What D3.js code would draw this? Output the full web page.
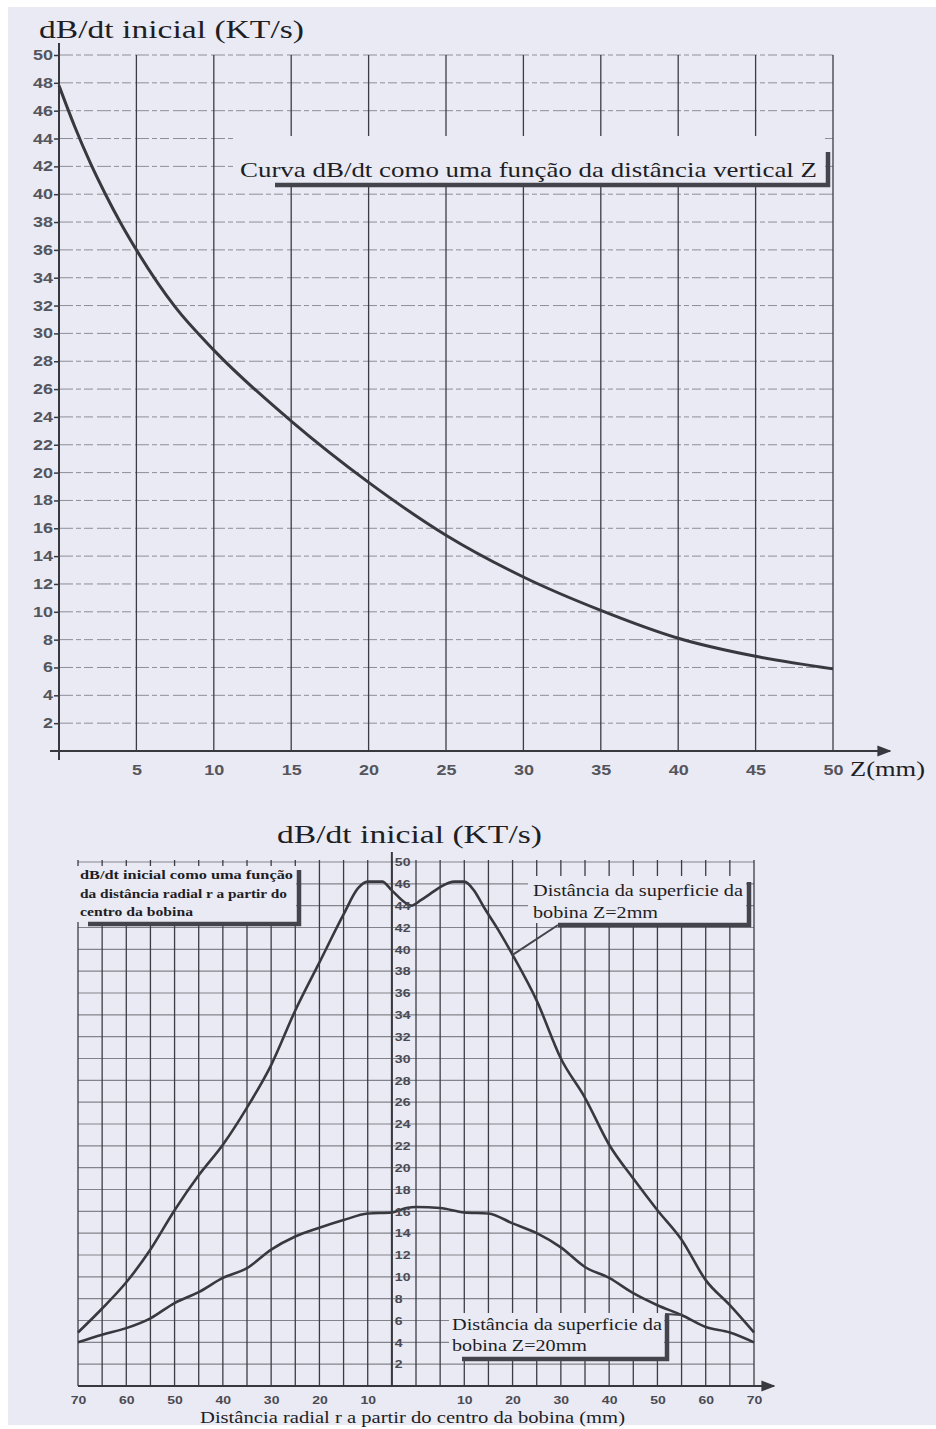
<!DOCTYPE html>
<html>
<head>
<meta charset="utf-8">
<script src="https://cdn.jsdelivr.net/npm/d3@7"></script>
<style>
body { margin: 0; background: #fff; }
svg { display: block; }
</style>
</head>
<body>
<script>
// ---------------------------------------------------------------------
// Data
// ---------------------------------------------------------------------

// top chart: dB/dt as a function of vertical distance Z (mm)
var zValues = [0, 1, 2, 3, 4, 5, 7.5, 10, 15, 20, 25, 30, 35, 40, 45, 50];
var dbdtVsZ = [47.8, 44.9, 42.3, 40.0, 37.9, 36.0, 31.9, 28.8, 23.7, 19.3,
    15.5, 12.5, 10.1, 8.1, 6.8, 5.9];
var topXTicks = [5, 10, 15, 20, 25, 30, 35, 40, 45, 50];
var topYTicks = [2, 4, 6, 8, 10, 12, 14, 16, 18, 20, 22, 24, 26, 28, 30, 32,
    34, 36, 38, 40, 42, 44, 46, 48, 50];

// bottom chart: dB/dt as a function of radial distance r (mm)
var rValuesZ2 = [-70, -65, -60, -55, -50, -45, -40, -35, -30, -25, -20, -15,
    -12, -10, -7, -5, -2, -1, 1, 3, 5, 8, 10, 12, 14, 17, 20, 25, 30, 35, 40,
    45, 50, 55, 60, 65, 70];
var dbdtZ2 = [4.9, 7.1, 9.5, 12.5, 16.1, 19.3, 22.1, 25.5, 29.4, 34.4, 38.8,
    43.2, 45.6, 46.2, 46.2, 45.4, 44.2, 44.0, 44.5, 45.1, 45.7, 46.2, 46.2,
    45.4, 43.9, 41.8, 39.5, 35.3, 30.0, 26.4, 22.1, 19.0, 16.1, 13.4, 9.7,
    7.4, 4.9];
var rValuesZ20 = [-70, -65, -60, -55, -50, -45, -40, -35, -30, -25, -20, -15,
    -10, -5, -2, 0, 5, 10, 15, 20, 25, 30, 35, 40, 45, 50, 55, 60, 65, 70];
var dbdtZ20 = [4.0, 4.7, 5.3, 6.2, 7.6, 8.6, 9.9, 10.8, 12.5, 13.7, 14.5,
    15.2, 15.8, 15.9, 16.3, 16.4, 16.3, 15.9, 15.8, 14.9, 14.0, 12.7, 10.9,
    9.9, 8.5, 7.4, 6.5, 5.4, 4.9, 4.0];
var bottomXTicks = [-70, -60, -50, -40, -30, -20, -10, 10, 20, 30, 40, 50,
    60, 70];
var bottomXLabels = ["70", "60", "50", "40", "30", "20", "10", "10", "20",
    "30", "40", "50", "60", "70"];
var bottomGridX = d3.range(-70, 71, 5);
var bottomYTicks = [2, 4, 6, 8, 10, 12, 14, 16, 18, 20, 22, 24, 26, 28, 30,
    32, 34, 36, 38, 40, 42, 44, 46, 48];
var bottomYLabels = ["2", "4", "6", "8", "10", "12", "14", "16", "18", "20",
    "22", "24", "26", "28", "30", "32", "34", "36", "38", "40", "42", "44",
    "46", "50"];

// ---------------------------------------------------------------------
// page & styles
// ---------------------------------------------------------------------
var pageW = 936, pageH = 1429;
var paper = "#eaeaf4";
var ink = "#38383f";
var serif = "'Liberation Serif', 'Times New Roman', serif";
var sans = "'Liberation Sans', Arial, sans-serif";

var svg = d3.select("body").append("svg")
    .attr("width", pageW)
    .attr("height", pageH);

// scanned paper area (thin white margins around it)
svg.append("rect")
    .attr("x", 8).attr("y", 7)
    .attr("width", pageW - 8).attr("height", pageH - 11)
    .attr("fill", paper);

var defs = svg.append("defs");
defs.append("marker")
    .attr("id", "arrow")
    .attr("viewBox", "0 0 10 10")
    .attr("refX", 9).attr("refY", 5)
    .attr("markerWidth", 7).attr("markerHeight", 7)
    .attr("orient", "auto")
    .append("path")
    .attr("d", "M0,1 L10,5 L0,9 Z")
    .attr("fill", ink);

// helper for the serif captions, stretched like the scan
function caption(str, x, y, size, len, weight) {
    var t = svg.append("text")
        .attr("x", x).attr("y", y)
        .attr("font-family", serif)
        .attr("font-size", size)
        .attr("fill", "#1e1e24")
        .text(str);
    if (weight) t.attr("font-weight", weight);
    if (len) t.attr("textLength", len).attr("lengthAdjust", "spacingAndGlyphs");
    return t;
}

// shadowed annotation box (background hides grid, dark L-shaped shadow)
function shadowBox(x, y, w, h, shadowStart, topInset) {
    svg.append("rect")
        .attr("x", x).attr("y", y)
        .attr("width", w).attr("height", h)
        .attr("fill", paper);
    svg.append("path")
        .attr("d", "M" + shadowStart + "," + (y + h + 2) +
            " H" + (x + w + 3) + " V" + (y + topInset))
        .attr("fill", "none")
        .attr("stroke", "#44444c")
        .attr("stroke-width", 4.5);
}

// =====================================================================
// TOP CHART
// =====================================================================
var xTop = d3.scaleLinear().domain([0, 50]).range([59, 833]);
var yTop = d3.scaleLinear().domain([0, 50]).range([751, 55]);

var gTop = svg.append("g");

// dashed horizontal grid
gTop.selectAll("line.hgrid")
    .data(topYTicks)
    .enter()
    .append("line")
    .attr("class", "hgrid")
    .attr("x1", xTop(0)).attr("x2", xTop(50))
    .attr("y1", function(d) { return yTop(d); })
    .attr("y2", function(d) { return yTop(d); })
    .attr("stroke", "#8e8e98")
    .attr("stroke-width", 1)
    .attr("stroke-dasharray", "14,3,5,3,9,4");

// solid vertical grid
gTop.selectAll("line.vgrid")
    .data(topXTicks)
    .enter()
    .append("line")
    .attr("class", "vgrid")
    .attr("x1", function(d) { return xTop(d); })
    .attr("x2", function(d) { return xTop(d); })
    .attr("y1", yTop(50)).attr("y2", yTop(0))
    .attr("stroke", "#3c3c44")
    .attr("stroke-width", 1.3);

// annotation box of top chart
shadowBox(235, 136, 590, 47, 275, 16);
caption("Curva dB/dt como uma função da distância vertical Z",
    240, 177, 21, 577);

// axes lines
gTop.append("line")
    .attr("x1", xTop(0)).attr("x2", xTop(0))
    .attr("y1", yTop(50) - 12).attr("y2", yTop(0) + 9)
    .attr("stroke", ink).attr("stroke-width", 2);
gTop.append("line")
    .attr("x1", xTop(0) - 9).attr("x2", xTop(50) + 57)
    .attr("y1", yTop(0)).attr("y2", yTop(0))
    .attr("stroke", ink).attr("stroke-width", 2)
    .attr("marker-end", "url(#arrow)");

// the curve
var lineTop = d3.line()
    .x(function(d) { return xTop(d[0]); })
    .y(function(d) { return yTop(d[1]); })
    .curve(d3.curveMonotoneX);

gTop.append("path")
    .datum(d3.zip(zValues, dbdtVsZ))
    .attr("d", lineTop)
    .attr("fill", "none")
    .attr("stroke", ink)
    .attr("stroke-width", 3);

// tick labels
var yAxisTop = d3.axisLeft(yTop).tickValues(topYTicks)
    .tickSize(5).tickPadding(1);
var yAxTop = gTop.append("g")
    .attr("transform", "translate(" + xTop(0) + ",0)")
    .call(yAxisTop);
yAxTop.select(".domain").remove();
yAxTop.selectAll(".tick line").attr("stroke", ink).attr("stroke-width", 1.5);

var xAxisTop = d3.axisBottom(xTop).tickValues(topXTicks)
    .tickSize(0).tickPadding(14);
var xAxTop = gTop.append("g")
    .attr("transform", "translate(0," + yTop(0) + ")")
    .call(xAxisTop);
xAxTop.select(".domain").remove();

[yAxTop, xAxTop].forEach(function(ax) {
    ax.selectAll("text")
        .attr("font-family", sans)
        .attr("font-size", 14)
        .attr("font-weight", "bold")
        .attr("fill", "#55555c")
        .attr("textLength", function(d) { return String(d).length * 10; })
        .attr("lengthAdjust", "spacingAndGlyphs");
});

caption("dB/dt inicial (KT/s)", 39, 38, 26, 265);
caption("Z(mm)", 850, 776, 22, 75);

// =====================================================================
// BOTTOM CHART
// =====================================================================
var xBot = d3.scaleLinear().domain([-70, 70]).range([78, 754]);
var yBot = d3.scaleLinear().domain([0, 48]).range([1386, 862]);

var gBot = svg.append("g");

// horizontal grid
gBot.selectAll("line.hgrid")
    .data(bottomYTicks)
    .enter()
    .append("line")
    .attr("class", "hgrid")
    .attr("x1", xBot(-70)).attr("x2", xBot(70))
    .attr("y1", function(d) { return yBot(d); })
    .attr("y2", function(d) { return yBot(d); })
    .attr("stroke", "#83838c")
    .attr("stroke-width", 1.2);

// vertical grid every 5 mm
gBot.selectAll("line.vgrid")
    .data(bottomGridX)
    .enter()
    .append("line")
    .attr("class", "vgrid")
    .attr("x1", function(d) { return xBot(d); })
    .attr("x2", function(d) { return xBot(d); })
    .attr("y1", yBot(48) - 2).attr("y2", yBot(0))
    .attr("stroke", "#3c3c44")
    .attr("stroke-width", 1.3);

// axes: vertical axis sits on the r = -5 grid line in the scan
gBot.append("line")
    .attr("x1", xBot(-5)).attr("x2", xBot(-5))
    .attr("y1", yBot(48) - 10).attr("y2", yBot(0))
    .attr("stroke", ink).attr("stroke-width", 2);
gBot.append("line")
    .attr("x1", xBot(-70)).attr("x2", xBot(70) + 20)
    .attr("y1", yBot(0)).attr("y2", yBot(0))
    .attr("stroke", ink).attr("stroke-width", 2)
    .attr("marker-end", "url(#arrow)");

// curves
var lineBot = d3.line()
    .x(function(d) { return xBot(d[0]); })
    .y(function(d) { return yBot(d[1]); })
    .curve(d3.curveMonotoneX);

gBot.append("path")
    .datum(d3.zip(rValuesZ2, dbdtZ2))
    .attr("d", lineBot)
    .attr("fill", "none")
    .attr("stroke", ink)
    .attr("stroke-width", 2.6);

gBot.append("path")
    .datum(d3.zip(rValuesZ20, dbdtZ20))
    .attr("d", lineBot)
    .attr("fill", "none")
    .attr("stroke", ink)
    .attr("stroke-width", 2.6);

// y tick labels, written just right of the axis
var yAxisBot = d3.axisRight(yBot).tickValues(bottomYTicks)
    .tickSize(0).tickPadding(3)
    .tickFormat(function(d, i) { return bottomYLabels[i]; });
var yAxBot = gBot.append("g")
    .attr("transform", "translate(" + xBot(-5) + ",0)")
    .call(yAxisBot);
yAxBot.select(".domain").remove();

var xAxisBot = d3.axisBottom(xBot).tickValues(bottomXTicks)
    .tickSize(0).tickPadding(10)
    .tickFormat(function(d, i) { return bottomXLabels[i]; });
var xAxBot = gBot.append("g")
    .attr("transform", "translate(0," + yBot(0) + ")")
    .call(xAxisBot);
xAxBot.select(".domain").remove();

[yAxBot, xAxBot].forEach(function(ax) {
    ax.selectAll("text")
        .attr("font-family", sans)
        .attr("font-size", 11.5)
        .attr("font-weight", "bold")
        .attr("fill", "#4a4a52")
        .attr("textLength", function() {
            return this.textContent.length * 7.8;
        })
        .attr("lengthAdjust", "spacingAndGlyphs");
});

// annotation: top-left description
shadowBox(77, 866, 219, 56, 88, 4);
caption("dB/dt  inicial como uma função", 80, 879, 13, 213, "bold");
caption("da distância radial r a partir do", 80, 898, 13, 207, "bold");
caption("centro da bobina", 80, 916, 13, 113, "bold");

// annotation: Z = 2 mm, with leader to the curve
gBot.append("line")
    .attr("x1", 558).attr("y1", 925)
    .attr("x2", xBot(rValuesZ2[26])).attr("y2", yBot(dbdtZ2[26]))
    .attr("stroke", "#44444c").attr("stroke-width", 2);
shadowBox(528, 876, 218, 47, 558, 6);
caption("Distância da superficie da", 533, 896, 17, 210);
caption("bobina Z=2mm", 533, 918, 17, 125);

// annotation: Z = 20 mm, with leader to the curve
gBot.append("line")
    .attr("x1", 665).attr("y1", 1314)
    .attr("x2", xBot(rValuesZ20[26])).attr("y2", yBot(dbdtZ20[26]))
    .attr("stroke", "#44444c").attr("stroke-width", 2);
shadowBox(449, 1313, 215, 44, 462, 2);
caption("Distância da superficie da", 452, 1330, 17, 210);
caption("bobina Z=20mm", 452, 1351, 17, 135);

caption("dB/dt inicial (KT/s)", 277, 843, 26, 265);
caption("Distância radial r a partir do centro da bobina (mm)",
    200, 1423, 16, 425);
</script>
</body>
</html>
